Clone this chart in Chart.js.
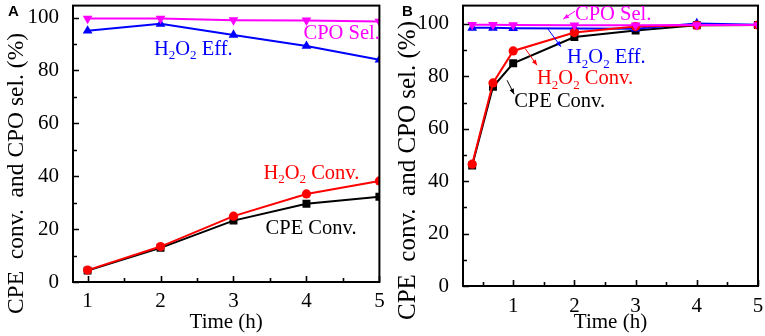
<!DOCTYPE html>
<html>
<head>
<meta charset="utf-8">
<script src="https://cdn.jsdelivr.net/npm/chart.js@4.4.0/dist/chart.umd.min.js"></script>
<style>
    html, body { margin: 0; padding: 0; background: #fff; }
    #wrap { position: relative; width: 765px; height: 336px; }
    canvas { position: absolute; top: 0; }
</style>
</head>
<body>
<div id="wrap">
    <canvas id="panel-a" width="385" height="336" style="left:0"></canvas>
    <canvas id="panel-b" width="380" height="336" style="left:385px"></canvas>
</div>
<script>
// panel A: conversion vs time
const timeA = [1, 2, 3, 4, 5];
const cpeConvA = [4.3, 12.9, 23.2, 29.6, 32.2];
const h2o2ConvA = [4.5, 13.4, 24.9, 33.3, 38.2];
const h2o2EffA = [95, 97.6, 93.4, 89.2, 84];
const cpoSelA = [99.6, 99.6, 99, 98.9, 98.5];

// panel B
const timeB = [0.33, 0.67, 1, 2, 3, 4, 5];
const cpeConvB = [46, 76, 85, 95, 97.5, 99.5, 99.6];
const h2o2ConvB = [46.5, 77.5, 89.7, 96.7, 99, 99.5, 99.6];
const h2o2EffB = [98.5, 98.5, 98.4, 98.3, 98.2, 100.2, 99.7];
const cpoSelB = [99.7, 99.7, 99.6, 99.5, 99.5, 99.6, 99.6];

const yTicks = [0, 20, 40, 60, 80, 100];
const yMinor = [10, 30, 50, 70, 90];
const xTicks = [1, 2, 3, 4, 5];
const xMinorA = [1.5, 2.5, 3.5, 4.5];
const xMinorB = [0.5, 1.5, 2.5, 3.5, 4.5];

// curve labels, in data units (left edge, middle of text)
const notesA = [
    { text: 'CPO Sel.', x: 3.96, y: 94, color: '#ff00ff' },
    { text: 'H_2O_2 Eff.', x: 1.91, y: 88, color: '#0000ff' },
    { text: 'H_2O_2 Conv.', x: 3.41, y: 41, color: '#ff0000' },
    { text: 'CPE Conv.', x: 3.44, y: 20, color: '#000000' }
];
const notesB = [
    { text: 'CPO Sel.', x: 2.01, y: 103.6, color: '#ff00ff' },
    { text: 'H_2O_2 Eff.', x: 1.88, y: 87, color: '#0000ff' },
    { text: 'H_2O_2 Conv.', x: 1.39, y: 79, color: '#ff0000' },
    { text: 'CPE Conv.', x: 1.016, y: 70.4, color: '#000000' }
];
// arrows in panel B, head at the "to" end
const arrowsB = [
    { from: [2.01, 104.9], to: [1.82, 101.9], color: '#ff00ff' },
    { from: [1.555, 98.5], to: [1.78, 91.3], color: '#0000ff' },
    { from: [1.196, 90.6], to: [1.39, 84.2], color: '#ff0000' },
    { from: [0.90, 78.5], to: [1.016, 73.2], color: '#000000' }
];

const SERIF = '"Liberation Serif", "Times New Roman", serif';
const yTitle = 'CPE  conv.  and CPO sel. (%)';

function drawRich (ctx, text, x, y, size) {
    // "_2" means a subscript 2
    const parts = text.split(/(_\d)/).filter(p => p.length);
    let cx = x;
    parts.forEach(p => {
        if (p[0] === '_') {
            ctx.font = `${Math.round(size * 0.62)}px ${SERIF}`;
            ctx.fillText(p.slice(1), cx, y + size * 0.3);
            cx += ctx.measureText(p.slice(1)).width;
        } else {
            ctx.font = `${size}px ${SERIF}`;
            ctx.fillText(p, cx, y);
            cx += ctx.measureText(p).width;
        }
    });
}

const framePlugin = {
    id: 'frame',
    afterDraw (chart, args, opts) {
        const { ctx, chartArea: a } = chart;
        const xs = chart.scales.x;
        const ys = chart.scales.y;
        ctx.save();
        ctx.strokeStyle = '#000';
        ctx.lineWidth = 2;
        ctx.strokeRect(a.left, a.top, a.right - a.left, a.bottom - a.top);

        ctx.lineWidth = 1.6;
        ctx.beginPath();
        xTicks.forEach(v => {
            const px = Math.round(xs.getPixelForValue(v)) + 0.5;
            ctx.moveTo(px, a.bottom); ctx.lineTo(px, a.bottom - 6);
        });
        opts.xMinor.forEach(v => {
            const px = Math.round(xs.getPixelForValue(v)) + 0.5;
            ctx.moveTo(px, a.bottom); ctx.lineTo(px, a.bottom - 4);
        });
        yTicks.forEach(v => {
            const py = Math.round(ys.getPixelForValue(v)) + 0.5;
            ctx.moveTo(a.left, py); ctx.lineTo(a.left + 6, py);
        });
        yMinor.forEach(v => {
            const py = Math.round(ys.getPixelForValue(v)) + 0.5;
            ctx.moveTo(a.left, py); ctx.lineTo(a.left + 4, py);
        });
        ctx.stroke();

        // rotated y title
        ctx.save();
        ctx.translate(opts.titleX, opts.titleY);
        ctx.rotate(-Math.PI / 2);
        ctx.fillStyle = '#000';
        ctx.font = `${opts.titleSize}px ${SERIF}`;
        ctx.textAlign = 'center';
        ctx.textBaseline = 'middle';
        ctx.fillText(yTitle, 0, 0);
        ctx.restore();

        // panel letter
        ctx.fillStyle = '#000';
        ctx.font = 'bold 15px "Liberation Sans", Arial, sans-serif';
        ctx.textAlign = 'left';
        ctx.textBaseline = 'top';
        ctx.fillText(opts.letter, opts.letterX, 4);

        // curve labels
        ctx.textBaseline = 'middle';
        opts.notes.forEach(n => {
            ctx.fillStyle = n.color;
            drawRich(ctx, n.text, xs.getPixelForValue(n.x), ys.getPixelForValue(n.y), 20.5);
        });

        // arrows
        opts.arrows.forEach(ar => {
            const x0 = xs.getPixelForValue(ar.from[0]);
            const y0 = ys.getPixelForValue(ar.from[1]);
            const x1 = xs.getPixelForValue(ar.to[0]);
            const y1 = ys.getPixelForValue(ar.to[1]);
            const ang = Math.atan2(y1 - y0, x1 - x0);
            ctx.strokeStyle = ar.color;
            ctx.fillStyle = ar.color;
            ctx.lineWidth = 1;
            ctx.beginPath();
            ctx.moveTo(x0, y0); ctx.lineTo(x1, y1);
            ctx.stroke();
            ctx.beginPath();
            ctx.moveTo(x1, y1);
            ctx.lineTo(x1 - 6 * Math.cos(ang - 0.4), y1 - 6 * Math.sin(ang - 0.4));
            ctx.lineTo(x1 - 6 * Math.cos(ang + 0.4), y1 - 6 * Math.sin(ang + 0.4));
            ctx.closePath();
            ctx.fill();
        });
        ctx.restore();
    }
};

function series (label, xs, ys, color, style, order) {
    return {
        label,
        data: xs.map((x, i) => ({ x, y: ys[i] })),
        borderColor: color,
        backgroundColor: color,
        borderWidth: 2,
        pointStyle: style === 'down' ? 'triangle' : style,
        pointRotation: style === 'down' ? 180 : 0,
        pointRadius: style === 'circle' ? 4.6 : 5.6,
        pointBorderWidth: 0,
        tension: 0,
        order
    };
}

function drawPanel (id, cfg) {
    new Chart(document.getElementById(id), {
        type: 'line',
        data: {
            datasets: [
                series('CPO Sel.', cfg.time, cfg.cpoSel, '#ff00ff', 'down', 0),
                series('H2O2 Conv.', cfg.time, cfg.h2o2Conv, '#ff0000', 'circle', 1),
                series('H2O2 Eff.', cfg.time, cfg.h2o2Eff, '#0000ff', 'triangle', 2),
                series('CPE Conv.', cfg.time, cfg.cpeConv, '#000000', 'rect', 3)
            ]
        },
        options: {
            responsive: false,
            animation: false,
            events: [],
            layout: { padding: { top: cfg.top, right: cfg.right, left: 0, bottom: 0 } },
            plugins: {
                legend: { display: false },
                tooltip: { enabled: false },
                frame: cfg.frame
            },
            scales: {
                x: {
                    type: 'linear',
                    min: cfg.xMin,
                    max: 5,
                    afterBuildTicks: s => { s.ticks = xTicks.map(v => ({ value: v })); },
                    afterFit: s => {
                        s.height = cfg.xHeight;
                        s.paddingLeft = 0;
                        s.paddingRight = 0;
                    },
                    grid: { display: false },
                    border: { display: false },
                    ticks: {
                        color: '#000',
                        font: { family: SERIF, size: 21 },
                        padding: cfg.xPad,
                        maxRotation: 0,
                        autoSkip: false
                    },
                    title: {
                        display: true,
                        text: 'Time (h)',
                        color: '#000',
                        font: { family: SERIF, size: 21 },
                        padding: { top: 0, bottom: 1 }
                    }
                },
                y: {
                    min: 0,
                    max: cfg.yMax,
                    afterBuildTicks: s => { s.ticks = yTicks.map(v => ({ value: v })); },
                    afterFit: s => {
                        s.width = cfg.yWidth;
                        s.paddingTop = 0;
                        s.paddingBottom = 0;
                    },
                    grid: { display: false },
                    border: { display: false },
                    ticks: {
                        color: '#000',
                        font: { family: SERIF, size: 21 },
                        padding: 6
                    }
                }
            }
        },
        plugins: [framePlugin]
    });
}

drawPanel('panel-a', {
    time: timeA, cpeConv: cpeConvA, h2o2Conv: h2o2ConvA, h2o2Eff: h2o2EffA, cpoSel: cpoSelA,
    xMin: 0.8, yMax: 104.5, top: 3, right: 3, xHeight: 54, yWidth: 73, xPad: -1,
    frame: { xMinor: xMinorA, notes: notesA, arrows: [], letter: 'A', letterX: 8, titleX: 17, titleY: 173.5, titleSize: 23.5 }
});

drawPanel('panel-b', {
    time: timeB, cpeConv: cpeConvB, h2o2Conv: h2o2ConvB, h2o2Eff: h2o2EffB, cpoSel: cpoSelB,
    xMin: 0.18, yMax: 107, top: 3, right: 7, xHeight: 50, yWidth: 78, xPad: 0,
    frame: { xMinor: xMinorB, notes: notesB, arrows: arrowsB, letter: 'B', letterX: 17, titleX: 23, titleY: 170.5, titleSize: 25 }
});
</script>
</body>
</html>
